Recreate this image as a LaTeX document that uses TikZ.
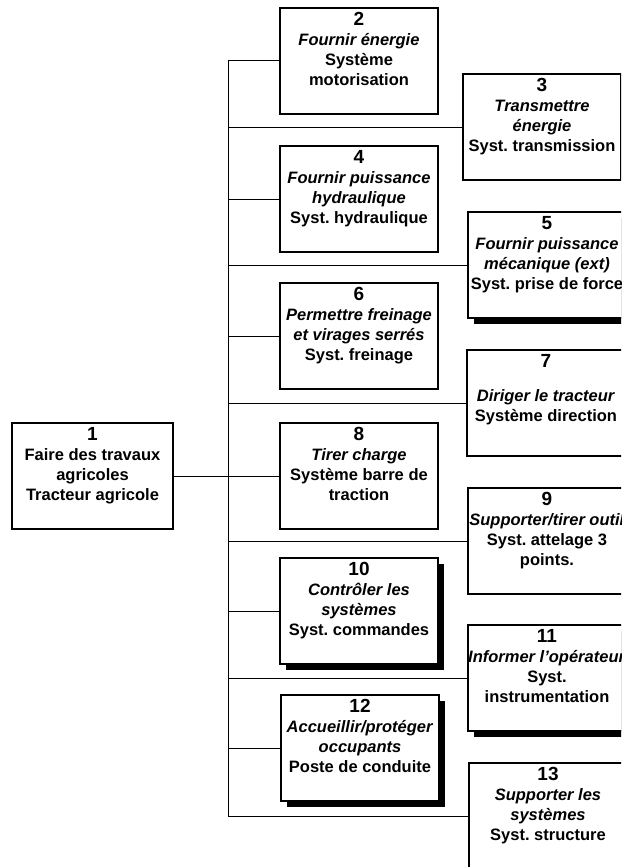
\documentclass[tikz,border=0pt]{standalone}
\usepackage{fontspec}
\setmainfont{Liberation Sans}
\usetikzlibrary{shadows}
\frenchspacing

\newcommand{\numtxt}[1]{{\fontsize{19}{20}\selectfont #1}}

\begin{document}
\begin{tikzpicture}[x=1pt, y=-1pt,
  box/.style={draw=black, line width=1.1pt, fill=white, anchor=north west,
              minimum width=158pt, minimum height=106pt, inner sep=0pt, outer sep=0pt},
  shbox/.style={box, drop shadow={shadow xshift=6pt, shadow yshift=-6pt,
              fill=black, opacity=1}},
  txt/.style={anchor=north, yshift=-4pt, inner sep=0pt, align=center,
              font=\fontsize{16.5}{20}\selectfont\bfseries},
  link/.style={draw=black, line width=1pt},
]
\useasboundingbox (0,0) rectangle (621,867);
\clip (0,0) rectangle (621,867);

% Main function
\node[box, minimum width=161pt] (b1) at (12,423) {};
\node[txt] (t1) at (b1.north) {\numtxt{1}\\Faire des travaux\\agricoles\\Tracteur agricole};

% Left column of sub-systems
\node[box] (b2) at (280,8) {};
\node[txt] (t2) at (b2.north) {\numtxt{2}\\\textit{Fournir énergie}\\Système\\motorisation};

\node[box] (b4) at (280,146) {};
\node[txt] (t4) at (b4.north) {\numtxt{4}\\\textit{Fournir puissance}\\\textit{hydraulique}\\Syst. hydraulique};

\node[box] (b6) at (280,283) {};
\node[txt] (t6) at (b6.north) {\numtxt{6}\\\textit{Permettre freinage}\\\textit{et virages serrés}\\Syst. freinage};

\node[box] (b8) at (280,423) {};
\node[txt] (t8) at (b8.north) {\numtxt{8}\\\textit{Tirer charge}\\Système barre de\\traction};

\node[shbox] (b10) at (280,558) {};
\node[txt] (t10) at (b10.north) {\numtxt{10}\\\textit{Contrôler les}\\\textit{systèmes}\\Syst. commandes};

\node[shbox] (b12) at (281,695) {};
\node[txt] (t12) at (b12.north) {\numtxt{12}\\\textit{Accueillir/protéger}\\\textit{occupants}\\Poste de conduite};

% Right column of sub-systems
\node[box] (b3) at (463,74) {};
\node[txt] (t3) at (b3.north) {\numtxt{3}\\\textit{Transmettre}\\\textit{énergie}\\Syst. transmission};

\node[shbox] (b5) at (468,212) {};
\node[txt] (t5) at (b5.north) {\numtxt{5}\\\textit{Fournir puissance}\\\textit{mécanique (ext)}\\Syst. prise de force};

\node[box] (b7) at (467,350) {};
\node[txt] (t7) at (b7.north) {\numtxt{7}\\[14pt]\textit{Diriger le tracteur}\\Système direction};

\node[box] (b9) at (468,488) {};
\node[txt] (t9) at (b9.north) {\numtxt{9}\\\textit{Supporter/tirer outil}\\Syst. attelage 3\\points.};

\node[shbox] (b11) at (468,625) {};
\node[txt] (t11) at (b11.north) {\numtxt{11}\\\textit{Informer l'opérateur}\\Syst.\\instrumentation};

\node[box] (b13) at (469,763) {};
\node[txt] (t13) at (b13.north) {\numtxt{13}\\\textit{Supporter les}\\\textit{systèmes}\\Syst. structure};

% Trunk and branches
\coordinate (trunk) at (228,476);
\draw[link] (b2.west -| trunk) -- (b13.west -| trunk);
\draw[link] (b1.east) -- (b8.west);
\draw[link] (b2.west -| trunk) -- (b2.west);
\draw[link] (b3.west -| trunk) -- (b3.west);
\draw[link] (b4.west -| trunk) -- (b4.west);
\draw[link] (b5.west -| trunk) -- (b5.west);
\draw[link] (b6.west -| trunk) -- (b6.west);
\draw[link] (b7.west -| trunk) -- (b7.west);
\draw[link] (b9.west -| trunk) -- (b9.west);
\draw[link] (b10.west -| trunk) -- (b10.west);
\draw[link] (b11.west -| trunk) -- (b11.west);
\draw[link] (b12.west -| trunk) -- (b12.west);
\draw[link] (b13.west -| trunk) -- (b13.west);

\end{tikzpicture}
\end{document}
